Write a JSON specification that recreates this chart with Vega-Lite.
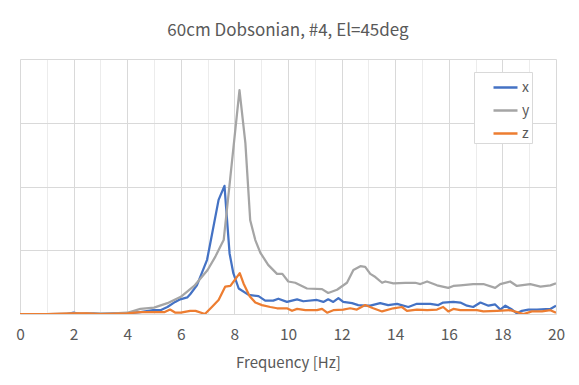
{
  "$schema": "https://vega.github.io/schema/vega-lite/v6.json",
  "width": 536,
  "height": 255,
  "autosize": {"type": "none"},
  "padding": {"left": 20, "top": 59, "right": 23, "bottom": 71},
  "background": "white",
  "title": {
    "text": "60cm Dobsonian, #4, El=45deg",
    "fontSize": 17,
    "fontWeight": "normal",
    "color": "#595959",
    "font": "Noto Sans CJK JP",
    "anchor": "middle",
    "offset": 19
  },
  "config": {
    "view": {"stroke": null},
    "font": "Noto Sans CJK JP"
  },
  "data": {
    "values": [
      {"f": 0, "v": 0, "s": "x"}, {"f": 1, "v": 0, "s": "x"}, {"f": 1.75, "v": 0, "s": "x"}, {"f": 2, "v": 0.02, "s": "x"}, {"f": 2.25, "v": 0, "s": "x"}, {"f": 2.75, "v": 0.01, "s": "x"}, {"f": 3, "v": 0, "s": "x"}, {"f": 3.5, "v": 0.01, "s": "x"}, {"f": 4, "v": 0.01, "s": "x"}, {"f": 4.25, "v": 0.02, "s": "x"}, {"f": 4.49, "v": 0.03, "s": "x"}, {"f": 4.97, "v": 0.06, "s": "x"}, {"f": 5.24, "v": 0.06, "s": "x"}, {"f": 5.5, "v": 0.11, "s": "x"}, {"f": 5.79, "v": 0.19, "s": "x"}, {"f": 5.98, "v": 0.23, "s": "x"}, {"f": 6.24, "v": 0.26, "s": "x"}, {"f": 6.35, "v": 0.31, "s": "x"}, {"f": 6.6, "v": 0.45, "s": "x"}, {"f": 6.98, "v": 0.85, "s": "x"}, {"f": 7.1, "v": 1.11, "s": "x"}, {"f": 7.41, "v": 1.79, "s": "x"}, {"f": 7.63, "v": 2.01, "s": "x"}, {"f": 7.82, "v": 0.95, "s": "x"}, {"f": 7.96, "v": 0.64, "s": "x"}, {"f": 8.16, "v": 0.4, "s": "x"}, {"f": 8.53, "v": 0.3, "s": "x"}, {"f": 8.9, "v": 0.28, "s": "x"}, {"f": 9.15, "v": 0.21, "s": "x"}, {"f": 9.45, "v": 0.21, "s": "x"}, {"f": 9.64, "v": 0.24, "s": "x"}, {"f": 9.96, "v": 0.19, "s": "x"}, {"f": 10.34, "v": 0.23, "s": "x"}, {"f": 10.57, "v": 0.2, "s": "x"}, {"f": 11.08, "v": 0.22, "s": "x"}, {"f": 11.32, "v": 0.19, "s": "x"}, {"f": 11.5, "v": 0.23, "s": "x"}, {"f": 11.69, "v": 0.19, "s": "x"}, {"f": 11.88, "v": 0.25, "s": "x"}, {"f": 12.06, "v": 0.19, "s": "x"}, {"f": 12.39, "v": 0.17, "s": "x"}, {"f": 12.62, "v": 0.14, "s": "x"}, {"f": 12.88, "v": 0.13, "s": "x"}, {"f": 13.07, "v": 0.13, "s": "x"}, {"f": 13.44, "v": 0.17, "s": "x"}, {"f": 13.74, "v": 0.14, "s": "x"}, {"f": 14.07, "v": 0.16, "s": "x"}, {"f": 14.49, "v": 0.11, "s": "x"}, {"f": 14.81, "v": 0.16, "s": "x"}, {"f": 15.31, "v": 0.16, "s": "x"}, {"f": 15.61, "v": 0.14, "s": "x"}, {"f": 15.79, "v": 0.18, "s": "x"}, {"f": 16.17, "v": 0.19, "s": "x"}, {"f": 16.43, "v": 0.18, "s": "x"}, {"f": 16.68, "v": 0.13, "s": "x"}, {"f": 16.91, "v": 0.11, "s": "x"}, {"f": 17.18, "v": 0.18, "s": "x"}, {"f": 17.48, "v": 0.13, "s": "x"}, {"f": 17.73, "v": 0.15, "s": "x"}, {"f": 17.92, "v": 0.07, "s": "x"}, {"f": 18.11, "v": 0.13, "s": "x"}, {"f": 18.36, "v": 0.07, "s": "x"}, {"f": 18.54, "v": 0.01, "s": "x"}, {"f": 18.73, "v": 0.05, "s": "x"}, {"f": 18.97, "v": 0.07, "s": "x"}, {"f": 19.29, "v": 0.07, "s": "x"}, {"f": 19.79, "v": 0.08, "s": "x"}, {"f": 20, "v": 0.13, "s": "x"},

      {"f": 0, "v": 0, "s": "y"}, {"f": 1, "v": 0, "s": "y"}, {"f": 2, "v": 0.01, "s": "y"}, {"f": 2.5, "v": 0.01, "s": "y"}, {"f": 3, "v": 0.01, "s": "y"}, {"f": 3.5, "v": 0.01, "s": "y"}, {"f": 4, "v": 0.02, "s": "y"}, {"f": 4.25, "v": 0.05, "s": "y"}, {"f": 4.49, "v": 0.08, "s": "y"}, {"f": 5, "v": 0.1, "s": "y"}, {"f": 5.5, "v": 0.17, "s": "y"}, {"f": 6, "v": 0.27, "s": "y"}, {"f": 6.35, "v": 0.39, "s": "y"}, {"f": 6.5, "v": 0.44, "s": "y"}, {"f": 7, "v": 0.69, "s": "y"}, {"f": 7.29, "v": 0.9, "s": "y"}, {"f": 7.5, "v": 1.08, "s": "y"}, {"f": 7.6, "v": 1.16, "s": "y"}, {"f": 7.85, "v": 2.15, "s": "y"}, {"f": 8.19, "v": 3.51, "s": "y"}, {"f": 8.41, "v": 2.68, "s": "y"}, {"f": 8.59, "v": 1.47, "s": "y"}, {"f": 8.78, "v": 1.16, "s": "y"}, {"f": 8.97, "v": 0.96, "s": "y"}, {"f": 9.26, "v": 0.77, "s": "y"}, {"f": 9.59, "v": 0.63, "s": "y"}, {"f": 9.79, "v": 0.63, "s": "y"}, {"f": 10.01, "v": 0.51, "s": "y"}, {"f": 10.27, "v": 0.49, "s": "y"}, {"f": 10.46, "v": 0.45, "s": "y"}, {"f": 10.71, "v": 0.4, "s": "y"}, {"f": 11.27, "v": 0.39, "s": "y"}, {"f": 11.5, "v": 0.33, "s": "y"}, {"f": 11.83, "v": 0.38, "s": "y"}, {"f": 12.2, "v": 0.49, "s": "y"}, {"f": 12.44, "v": 0.69, "s": "y"}, {"f": 12.7, "v": 0.75, "s": "y"}, {"f": 12.88, "v": 0.74, "s": "y"}, {"f": 13.07, "v": 0.63, "s": "y"}, {"f": 13.26, "v": 0.58, "s": "y"}, {"f": 13.51, "v": 0.49, "s": "y"}, {"f": 13.63, "v": 0.51, "s": "y"}, {"f": 13.93, "v": 0.48, "s": "y"}, {"f": 14.38, "v": 0.49, "s": "y"}, {"f": 14.75, "v": 0.49, "s": "y"}, {"f": 14.94, "v": 0.47, "s": "y"}, {"f": 15.19, "v": 0.51, "s": "y"}, {"f": 15.56, "v": 0.45, "s": "y"}, {"f": 15.98, "v": 0.41, "s": "y"}, {"f": 16.17, "v": 0.44, "s": "y"}, {"f": 16.43, "v": 0.45, "s": "y"}, {"f": 16.91, "v": 0.47, "s": "y"}, {"f": 17.29, "v": 0.47, "s": "y"}, {"f": 17.73, "v": 0.41, "s": "y"}, {"f": 17.92, "v": 0.47, "s": "y"}, {"f": 18.29, "v": 0.51, "s": "y"}, {"f": 18.54, "v": 0.44, "s": "y"}, {"f": 19.04, "v": 0.47, "s": "y"}, {"f": 19.42, "v": 0.43, "s": "y"}, {"f": 19.79, "v": 0.45, "s": "y"}, {"f": 20, "v": 0.48, "s": "y"},

      {"f": 0, "v": 0, "s": "z"}, {"f": 1, "v": 0, "s": "z"}, {"f": 2, "v": 0.01, "s": "z"}, {"f": 2.5, "v": 0.01, "s": "z"}, {"f": 3, "v": 0, "s": "z"}, {"f": 4, "v": 0.01, "s": "z"}, {"f": 4.5, "v": 0.03, "s": "z"}, {"f": 5, "v": 0.03, "s": "z"}, {"f": 5.4, "v": 0.03, "s": "z"}, {"f": 5.6, "v": 0.07, "s": "z"}, {"f": 5.8, "v": 0.02, "s": "z"}, {"f": 6, "v": 0.02, "s": "z"}, {"f": 6.35, "v": 0.05, "s": "z"}, {"f": 6.55, "v": 0.05, "s": "z"}, {"f": 6.9, "v": 0, "s": "z"}, {"f": 7.16, "v": 0.11, "s": "z"}, {"f": 7.41, "v": 0.22, "s": "z"}, {"f": 7.66, "v": 0.43, "s": "z"}, {"f": 7.85, "v": 0.44, "s": "z"}, {"f": 8.2, "v": 0.64, "s": "z"}, {"f": 8.34, "v": 0.48, "s": "z"}, {"f": 8.57, "v": 0.28, "s": "z"}, {"f": 8.78, "v": 0.18, "s": "z"}, {"f": 9.03, "v": 0.14, "s": "z"}, {"f": 9.34, "v": 0.11, "s": "z"}, {"f": 9.59, "v": 0.09, "s": "z"}, {"f": 9.96, "v": 0.09, "s": "z"}, {"f": 10.15, "v": 0.05, "s": "z"}, {"f": 10.34, "v": 0.08, "s": "z"}, {"f": 10.65, "v": 0.06, "s": "z"}, {"f": 11.08, "v": 0.06, "s": "z"}, {"f": 11.27, "v": 0.08, "s": "z"}, {"f": 11.46, "v": 0.02, "s": "z"}, {"f": 11.69, "v": 0.06, "s": "z"}, {"f": 12.06, "v": 0.07, "s": "z"}, {"f": 12.32, "v": 0.09, "s": "z"}, {"f": 12.57, "v": 0.07, "s": "z"}, {"f": 12.88, "v": 0.14, "s": "z"}, {"f": 13.18, "v": 0.09, "s": "z"}, {"f": 13.51, "v": 0.04, "s": "z"}, {"f": 13.93, "v": 0.09, "s": "z"}, {"f": 14.25, "v": 0.11, "s": "z"}, {"f": 14.44, "v": 0.05, "s": "z"}, {"f": 14.81, "v": 0.07, "s": "z"}, {"f": 15.19, "v": 0.06, "s": "z"}, {"f": 15.56, "v": 0.07, "s": "z"}, {"f": 15.79, "v": 0.11, "s": "z"}, {"f": 15.98, "v": 0.04, "s": "z"}, {"f": 16.17, "v": 0.08, "s": "z"}, {"f": 16.43, "v": 0.06, "s": "z"}, {"f": 17.05, "v": 0.06, "s": "z"}, {"f": 17.29, "v": 0.04, "s": "z"}, {"f": 17.8, "v": 0.05, "s": "z"}, {"f": 18.29, "v": 0.06, "s": "z"}, {"f": 18.79, "v": 0, "s": "z"}, {"f": 19.1, "v": 0.04, "s": "z"}, {"f": 19.48, "v": 0.04, "s": "z"}, {"f": 19.79, "v": 0.06, "s": "z"}, {"f": 20, "v": 0.02, "s": "z"}
    ]
  },
  "mark": {"type": "line", "strokeWidth": 2.25, "strokeJoin": "round", "clip": true},
  "encoding": {
    "x": {
      "field": "f",
      "type": "quantitative",
      "scale": {"domain": [0, 20], "nice": false, "zero": false},
      "axis": {
        "title": "Frequency [Hz]",
        "titleFontSize": 15,
        "titleFontWeight": "normal",
        "titleColor": "#595959",
        "titlePadding": 13,
        "values": [0, 1, 2, 3, 4, 5, 6, 7, 8, 9, 10, 11, 12, 13, 14, 15, 16, 17, 18, 19, 20],
        "labelExpr": "datum.value % 2 === 0 ? datum.label : ''",
        "labelFontSize": 15.5,
        "labelColor": "#595959",
        "labelPadding": 13,
        "labelFlush": false,
        "ticks": false,
        "domain": false,
        "grid": true,
        "gridColor": {"condition": {"test": "datum.value % 2 === 0", "value": "#d9d9d9"}, "value": "#ececec"},
        "gridWidth": 1
      }
    },
    "y": {
      "field": "v",
      "type": "quantitative",
      "scale": {"domain": [0, 4], "nice": false},
      "axis": {
        "title": null,
        "values": [0, 1, 2, 3, 4],
        "labels": false,
        "ticks": false,
        "domain": false,
        "grid": true,
        "gridColor": "#d9d9d9",
        "gridWidth": 1
      }
    },
    "color": {
      "field": "s",
      "type": "nominal",
      "scale": {"domain": ["x", "y", "z"], "range": ["#4472C4", "#A5A5A5", "#ED7D31"]},
      "legend": {
        "title": null,
        "orient": "none",
        "legendX": 454,
        "legendY": 13,
        "symbolType": "stroke",
        "symbolSize": 576,
        "symbolStrokeWidth": 2.5,
        "symbolOffset": 16,
        "padding": 2,
        "rowPadding": 2,
        "labelFontSize": 14,
        "labelColor": "#595959",
        "labelOffset": 3,
        "strokeColor": "#d9d9d9",
        "fillColor": "white"
      }
    }
  }
}
